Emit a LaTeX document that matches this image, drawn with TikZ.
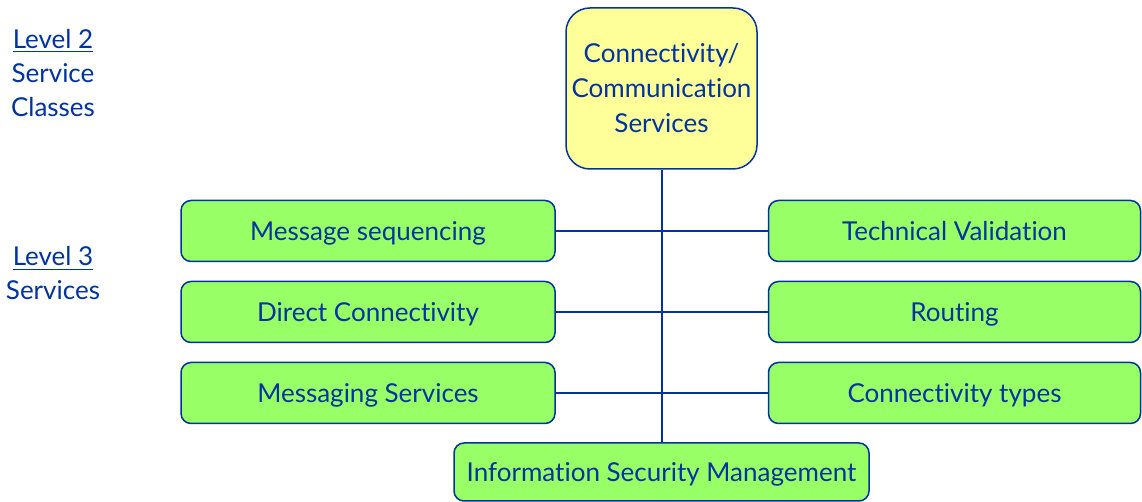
\documentclass[tikz,border=0pt]{standalone}
\usepackage{fontspec}
\setmainfont{Lato}[RawFeature={-liga;-clig;-calt;-dlig}]
\definecolor{navy}{HTML}{0033A0}
\definecolor{lightyellow}{HTML}{FFFF99}
\definecolor{lightgreen}{HTML}{99FF66}

\tikzset{
  serviceclass/.style={draw=navy, fill=lightyellow, line width=0.75pt, rounded corners=12pt,
    minimum width=95.5pt, minimum height=80.5pt, align=center, text=navy,
    font=\fontsize{13}{17.5}\selectfont, inner sep=0pt},
  service/.style={draw=navy, fill=lightgreen, line width=0.75pt, rounded corners=5pt,
    minimum width=187pt, minimum height=30.5pt, text=navy, text height=9.4pt, text depth=0pt,
    font=\fontsize{13}{16}\selectfont},
  levellabel/.style={align=center, text=navy, font=\fontsize{13}{17}\selectfont},
  link/.style={draw=navy, line width=0.75pt}
}

\begin{document}
\begin{tikzpicture}[x=0.5pt, y=0.5pt]
  \useasboundingbox (0,0) rectangle (1142,502);

  \node (l2) at (53, 429) [levellabel] {\underline{Level 2}\\Service\\Classes};
  \node (l3) at (53, 228.5) [levellabel] {\underline{Level 3}\\Services};

  \node (cc) at (661.5, 413.5) [serviceclass] {Connectivity/\\Communication\\Services};

  \node (ms) at (368, 271) [service] {Message sequencing};
  \node (dc) at (368, 190) [service] {Direct Connectivity};
  \node (mg) at (368, 109) [service] {Messaging Services};
  \node (tv) at (954.5, 271) [service, minimum width=186pt] {Technical Validation};
  \node (rt) at (954.5, 190) [service, minimum width=186pt] {Routing};
  \node (ct) at (954.5, 109) [service, minimum width=186pt] {Connectivity types};
  \node (ism) at (661.5, 30) [service, minimum width=207.5pt, minimum height=29pt] {Information Security Management};

  \draw [link, line width=1pt] (cc.south) -- (ism.north);
  \draw [link] (ms.east) -- (tv.west);
  \draw [link] (dc.east) -- (rt.west);
  \draw [link] (mg.east) -- (ct.west);
\end{tikzpicture}
\end{document}
